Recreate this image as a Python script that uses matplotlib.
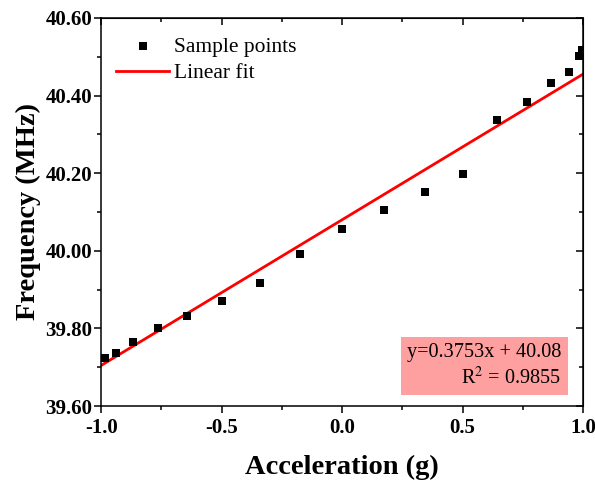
import matplotlib.pyplot as plt
import numpy as np
from matplotlib.ticker import MultipleLocator, FormatStrFormatter

plt.rcParams['font.family'] = ['Liberation Serif', 'DejaVu Serif']
plt.rcParams['mathtext.fontset'] = 'stix'

# measured sample points
accel = [-0.985, -0.940, -0.866, -0.766, -0.643, -0.500, -0.342, -0.174, 0.000,
         0.174, 0.342, 0.500, 0.643, 0.766, 0.866, 0.940, 0.982, 0.995]
freq = [39.723, 39.736, 39.764, 39.800, 39.833, 39.871, 39.917, 39.991, 40.057,
        40.104, 40.151, 40.198, 40.337, 40.384, 40.432, 40.460, 40.501, 40.518]

# linear fit result
slope = 0.3753
intercept = 40.08
r2 = 0.9855

fig = plt.figure(figsize=(5.95, 4.84), dpi=100)
ax = fig.add_axes([0.170, 0.161, 0.810, 0.802])

xf = np.array([-1.0, 1.0])
ax.scatter(accel, freq, marker='s', s=32, color='black', linewidths=0, zorder=3, label='Sample points')
ax.plot(xf, slope * xf + intercept, color='red', lw=2.0, zorder=2, label='Linear fit')

ax.set_xlim(-1.0, 1.0)
ax.set_ylim(39.60, 40.60)
ax.xaxis.set_major_locator(MultipleLocator(0.5))
ax.xaxis.set_minor_locator(MultipleLocator(0.25))
ax.yaxis.set_major_locator(MultipleLocator(0.2))
ax.yaxis.set_minor_locator(MultipleLocator(0.1))
ax.xaxis.set_major_formatter(FormatStrFormatter('%.1f'))
ax.yaxis.set_major_formatter(FormatStrFormatter('%.2f'))

for s in ax.spines.values():
    s.set_linewidth(1.1)
ax.tick_params(which='major', direction='out', length=5, width=1.1, labelsize=15)
ax.tick_params(which='minor', direction='out', length=3, width=1.1)
ax.tick_params(axis='y', which='major', pad=1.5)
for lab in ax.get_xticklabels() + ax.get_yticklabels():
    lab.set_fontweight('bold')

# mirrored ticks on top and right, pointing inward
top = ax.secondary_xaxis('top')
top.xaxis.set_major_locator(MultipleLocator(0.5))
top.xaxis.set_minor_locator(MultipleLocator(0.25))
top.tick_params(which='both', direction='in', labeltop=False, width=1.1)
top.tick_params(which='major', length=5)
top.tick_params(which='minor', length=3)
right = ax.secondary_yaxis('right')
right.yaxis.set_major_locator(MultipleLocator(0.2))
right.yaxis.set_minor_locator(MultipleLocator(0.1))
right.tick_params(which='both', direction='in', labelright=False, width=1.1)
right.tick_params(which='major', length=5)
right.tick_params(which='minor', length=3)

ax.set_xlabel('Acceleration (g)', fontsize=20.5, fontweight='bold', labelpad=12)
ax.set_ylabel('Frequency (MHz)', fontsize=20.5, fontweight='bold', labelpad=3)

ax.legend(loc='upper left', bbox_to_anchor=(0.0, 0.99), frameon=False,
          fontsize=15.5, handlelength=2.45, handletextpad=0.25, labelspacing=0.3,
          borderaxespad=0.3)

ax.text(0.955, 0.045, 'y=0.3753x + 40.08\nR$^2$ = 0.9855', transform=ax.transAxes,
        ha='right', va='bottom', fontsize=14.6, linespacing=1.25,
        bbox=dict(boxstyle='square,pad=0.32', facecolor='#ffa0a0', edgecolor='none'))

fig.savefig('out.png', dpi=100)
